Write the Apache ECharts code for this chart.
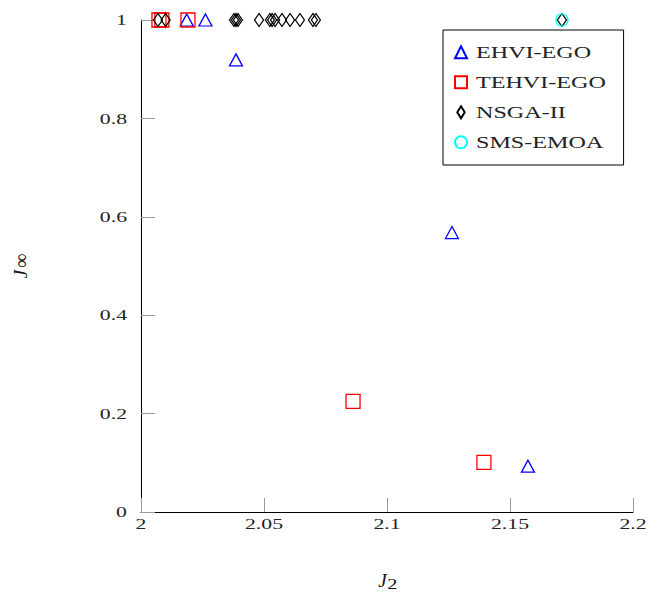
<!DOCTYPE html>
<html><head><meta charset="utf-8">
<script src="https://cdn.jsdelivr.net/npm/echarts@6/dist/echarts.min.js"></script>
<style>html,body{margin:0;padding:0;background:#fff}#c{width:652px;height:596px}</style>
</head><body><div id="c"></div>
<script>
const seriesNames = ['EHVI-EGO', 'TEHVI-EGO', 'NSGA-II', 'SMS-EMOA'];
const xTicks = [2, 2.05, 2.1, 2.15, 2.2];
const yTicks = [0, 0.2, 0.4, 0.6, 0.8, 1];
const ehviEgo = [[2.0186, 1], [2.0262, 1], [2.0386, 0.919], [2.1264, 0.568], [2.1573, 0.093]];
const tehviEgo = [[2.0073, 1], [2.0085, 1], [2.0191, 1], [2.0862, 0.225], [2.1394, 0.101]];
const nsga2 = [[2.0069, 1], [2.0100, 1], [2.0378, 1], [2.0386, 1], [2.0394, 1], [2.0480, 1],
  [2.0524, 1], [2.0533, 1], [2.0545, 1], [2.0573, 1], [2.0606, 1], [2.0646, 1],
  [2.0699, 1], [2.0711, 1], [2.1711, 1]];
const smsEmoa = [[2.1711, 1]];

const diamond = 'path://M0,-1L0.62,0L0,1L-0.62,0Z';
const FONT = 'Liberation Serif';

const chart = echarts.init(document.getElementById('c'), null, {renderer: 'svg'});
const axisCommon = {
  type: 'value',
  axisLine: {show: true, onZero: false, lineStyle: {color: '#000', width: 1}},
  axisTick: {show: true, inside: true, length: 14, lineStyle: {color: '#999', width: 1}},
  splitLine: {show: false},
  axisLabel: {fontFamily: FONT, fontSize: 15, color: '#222'}
};
const mk = (name, data, symbol, size, color) => ({
  name, type: 'scatter', data, symbol, symbolSize: size, clip: false, silent: true,
  itemStyle: {color: 'rgba(0,0,0,0)', borderColor: color, borderWidth: 1.3, opacity: 1}
});
chart.setOption({
  animation: false,
  grid: {left: 141, right: 19, top: 20, bottom: 83},
  xAxis: Object.assign({}, axisCommon, {
    min: xTicks[0], max: xTicks[xTicks.length - 1], interval: 0.05,
    axisLabel: Object.assign({}, axisCommon.axisLabel, {margin: 4}),
    name: '{i|J}{s|2}', nameLocation: 'middle', nameGap: 57,
    nameTextStyle: {rich: {
      i: {fontFamily: FONT, fontStyle: 'italic', fontSize: 19, color: '#111', lineHeight: 22, verticalAlign: 'middle', padding: [0, 1, 0, 0]},
      s: {fontFamily: FONT, fontSize: 14, color: '#111', lineHeight: 12, verticalAlign: 'bottom', padding: [0, 0, 0, 1]}
    }}
  }),
  yAxis: Object.assign({}, axisCommon, {
    min: yTicks[0], max: yTicks[yTicks.length - 1], interval: 0.2,
    axisLabel: Object.assign({}, axisCommon.axisLabel, {margin: 14}),
    name: '{i|J}{s|∞}', nameLocation: 'middle', nameGap: 110, nameRotate: 90,
    nameTextStyle: {rich: {
      i: {fontFamily: FONT, fontStyle: 'italic', fontSize: 19, color: '#111', lineHeight: 22, verticalAlign: 'middle', padding: [0, 1, 0, 0]},
      s: {fontFamily: FONT, fontSize: 20, color: '#111', lineHeight: 14, verticalAlign: 'bottom', padding: [0, 0, 0, 1]}
    }}
  }),
  legend: {
    orient: 'vertical', left: 443, top: 30,
    padding: [13.3, 56, 13.7, 11], itemGap: 12, itemWidth: 12, itemHeight: 12,
    borderColor: '#000', borderWidth: 1, backgroundColor: '#fff',
    textStyle: {fontFamily: FONT, fontSize: 17, color: '#222', lineHeight: 18, padding: [0, 0, 0, 4]},
    selectedMode: false,
    data: [
      {name: seriesNames[0], icon: 'triangle'},
      {name: seriesNames[1], icon: 'rect'},
      {name: seriesNames[2], icon: diamond},
      {name: seriesNames[3], icon: 'circle'}
    ]
  },
  series: [
    mk(seriesNames[0], ehviEgo, 'triangle', [13, 12], '#0000ff'),
    mk(seriesNames[1], tehviEgo, 'rect', [14, 14], '#ff0000'),
    mk(seriesNames[2], nsga2, diamond, [9, 13], '#000000'),
    mk(seriesNames[3], smsEmoa, 'circle', 12, '#00ffff')
  ]
});

const tickSet = new Set(xTicks.concat(yTicks).map(String));
function stretch() {
  const svg = document.querySelector('#c svg');
  if (!svg) return;
  svg.querySelectorAll('text').forEach(t => {
    if (t.dataset.s) return;
    const s = t.textContent.trim();
    let k = 0;
    if (tickSet.has(s)) k = 1.45;
    else if (seriesNames.includes(s)) k = 1.42;
    if (!k) return;
    const x = parseFloat(t.getAttribute('x') || '0');
    const tr = t.getAttribute('transform') || '';
    t.setAttribute('transform', tr + ' translate(' + x + ',0) scale(' + k + ',1) translate(' + (-x) + ',0)');
    t.dataset.s = '1';
  });
}
chart.on('finished', stretch);
setTimeout(stretch, 30);
setTimeout(stretch, 200);
</script>
</body></html>
